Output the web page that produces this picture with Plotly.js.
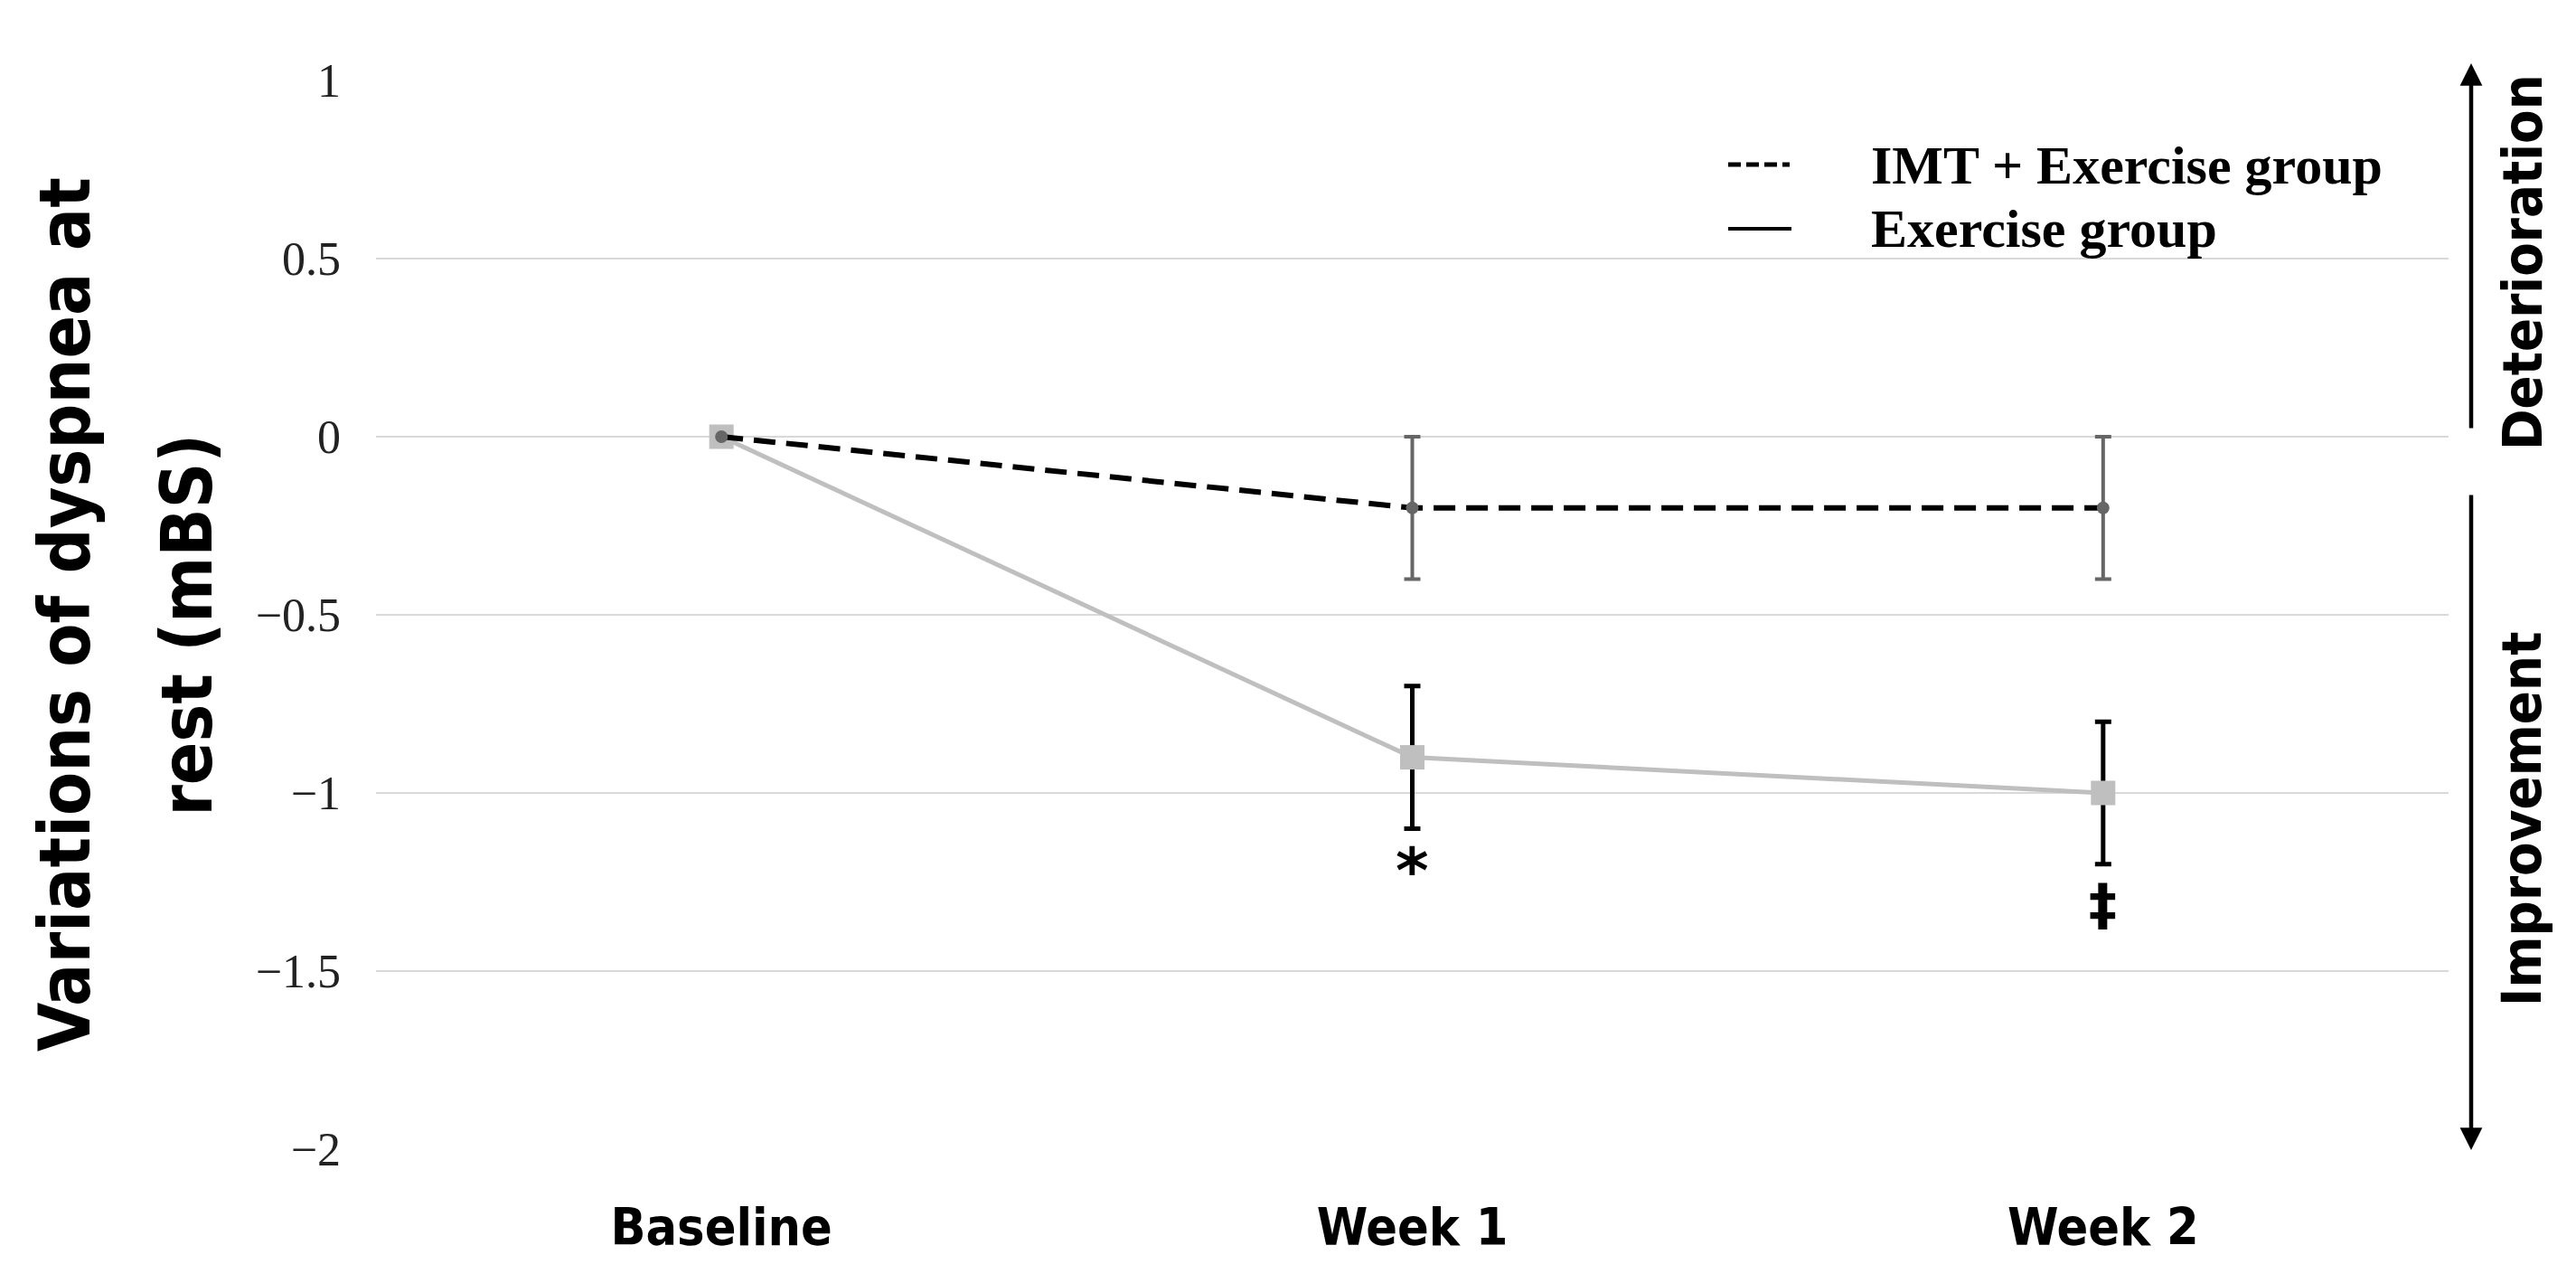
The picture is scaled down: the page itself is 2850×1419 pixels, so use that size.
<!DOCTYPE html>
<html>
<head>
<meta charset="utf-8">
<script src="https://cdn.plot.ly/plotly-3.0.1.min.js"></script>
<style>html,body{margin:0;padding:0;background:#fff;}#chart{width:2850px;height:1419px;}</style>
</head>
<body>
<div id="chart"></div>
<script>
// ---- data ----
const categories = ['Baseline', 'Week 1', 'Week 2'];
const imtMean = [0, -0.2, -0.2];
const imtSD = [NaN, 0.2, 0.2];
const exMean = [0, -0.9, -1.0];
const exSD = [NaN, 0.2, 0.2];
const sigMarks = ['', '*', '\u2021'];
const seriesNames = ['IMT + Exercise group', 'Exercise group'];
const yTickVals = [1, 0.5, 0, -0.5, -1, -1.5, -2];
const yTitleLines = ['Variations of dyspnea at', 'rest (mBS)'];
const sideLabels = ['Deterioration', 'Improvement'];

// ---- geometry helpers (layout only) ----
const W = 2850, H = 1419;
const M = {l: 416, r: 141, t: 89, b: 148};
const PW = W - M.l - M.r, PH = H - M.t - M.b;
const px2x = p => (p - M.l) / PW;
const px2y = p => (H - M.b - p) / PH;

const narrow = 'DejaVu Sans Condensed, DejaVu Sans, sans-serif';
const serif = 'Liberation Serif, Times New Roman, serif';

const traces = [
  {
    x: categories, y: exMean, name: seriesNames[1], type: 'scatter', mode: 'lines+markers',
    line: {color: '#bfbfbf', width: 5},
    marker: {symbol: 'square', size: 27, color: '#bfbfbf'},
    error_y: {type: 'data', array: exSD, visible: true, color: '#000000', thickness: 5, width: 9},
    showlegend: false, cliponaxis: false
  },
  {
    x: categories, y: imtMean, name: seriesNames[0], type: 'scatter', mode: 'lines+markers',
    line: {color: '#000000', width: 6, dash: '24px,12px'},
    marker: {symbol: 'circle', size: 14, color: '#666666'},
    error_y: {type: 'data', array: imtSD, visible: true, color: '#666666', thickness: 4, width: 9},
    showlegend: false, cliponaxis: false
  }
];

const annotations = [];
// significance markers
sigMarks.forEach((s, i) => {
  if (!s) return;
  annotations.push({
    x: categories[i], y: exMean[i] - exSD[i], xref: 'x', yref: 'y',
    text: '<b>' + s + '</b>', showarrow: false, yanchor: 'top', yshift: i === 1 ? -4 : -6,
    font: {family: 'DejaVu Sans, sans-serif', size: i === 1 ? 70 : 62, color: '#000'}
  });
});
// y title (two lines)
annotations.push({
  xref: 'paper', yref: 'paper', x: px2x(72), y: 0.5, xanchor: 'center', yanchor: 'middle',
  text: yTitleLines[0], textangle: -90, showarrow: false,
  font: {family: narrow, size: 78, weight: 'bold', color: '#000'}
});
annotations.push({
  xref: 'paper', yref: 'paper', x: px2x(207), y: 0.49, xanchor: 'center', yanchor: 'middle',
  text: yTitleLines[1], textangle: -90, showarrow: false,
  font: {family: narrow, size: 78, weight: 'bold', color: '#000'}
});
// legend texts
annotations.push({
  xref: 'paper', yref: 'paper', x: px2x(2068), y: px2y(183), xanchor: 'left', yanchor: 'middle',
  text: '<b>' + seriesNames[0] + '</b>', showarrow: false,
  font: {family: serif, size: 60, color: '#000'}
});
annotations.push({
  xref: 'paper', yref: 'paper', x: px2x(2068), y: px2y(253), xanchor: 'left', yanchor: 'middle',
  text: '<b>' + seriesNames[1] + '</b>', showarrow: false,
  font: {family: serif, size: 60, color: '#000'}
});
// side labels
annotations.push({
  xref: 'paper', yref: 'paper', x: px2x(2790), y: px2y(290), xanchor: 'center', yanchor: 'middle',
  text: sideLabels[0], textangle: -90, showarrow: false,
  font: {family: narrow, size: 61, weight: 'bold', color: '#000'}
});
annotations.push({
  xref: 'paper', yref: 'paper', x: px2x(2790), y: px2y(906), xanchor: 'center', yanchor: 'middle',
  text: sideLabels[1], textangle: -90, showarrow: false,
  font: {family: narrow, size: 61, weight: 'bold', color: '#000'}
});
// side arrows
annotations.push({
  xref: 'paper', yref: 'paper', x: px2x(2734), y: px2y(70), text: '', showarrow: true,
  ax: 0, ay: 405, axref: 'pixel', ayref: 'pixel', arrowhead: 2, arrowsize: 1.1, arrowwidth: 4.5, arrowcolor: '#000', standoff: 0, startstandoff: 0
});
annotations.push({
  xref: 'paper', yref: 'paper', x: px2x(2734), y: px2y(1272), text: '', showarrow: true,
  ax: 0, ay: -726, axref: 'pixel', ayref: 'pixel', arrowhead: 2, arrowsize: 1.1, arrowwidth: 4.5, arrowcolor: '#000', standoff: 0, startstandoff: 0
});

const shapes = [
  {type: 'line', xref: 'paper', yref: 'paper', x0: px2x(1912), x1: px2x(1980), y0: px2y(182), y1: px2y(182),
   line: {color: '#000', width: 5, dash: '14px,6px'}},
  {type: 'line', xref: 'paper', yref: 'paper', x0: px2x(1912), x1: px2x(1982), y0: px2y(253), y1: px2y(253),
   line: {color: '#000', width: 4}}
];

const layout = {
  width: W, height: H,
  margin: M,
  paper_bgcolor: '#ffffff', plot_bgcolor: '#ffffff',
  showlegend: false,
  xaxis: {
    type: 'category', range: [-0.5, 2.5], showgrid: false, zeroline: false, showline: false,
    ticks: '', ticklabelstandoff: 48,
    tickfont: {family: narrow, size: 57, weight: 'bold', color: '#000'}
  },
  yaxis: {
    range: [-2, 1], tickvals: yTickVals, showgrid: true, gridcolor: '#d9d9d9', gridwidth: 2,
    zeroline: false, showline: false, ticks: '', ticklabelstandoff: 38,
    tickfont: {family: serif, size: 52, color: '#222'}
  },
  annotations: annotations,
  shapes: shapes
};

Plotly.newPlot('chart', traces, layout, {displayModeBar: false, staticPlot: true});
</script>
</body>
</html>
